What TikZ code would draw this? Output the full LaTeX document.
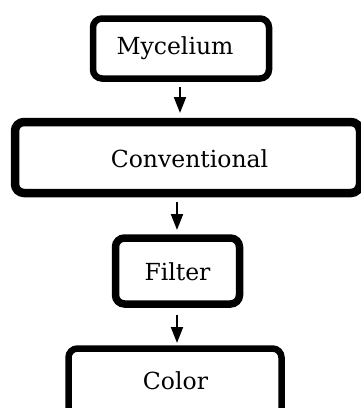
\documentclass[tikz,border=0pt]{standalone}
\usepackage{fontspec}
\setmainfont{DejaVu Serif}
\usetikzlibrary{arrows.meta}
\begin{document}
\begin{tikzpicture}[x=1pt,y=-1pt,
  box/.style={draw=black,rounded corners=9pt,fill=white},
  lbl/.style={font=\fontsize{23.5}{28}\selectfont,inner sep=0pt},
  conn/.style={line width=2pt,-{Triangle[length=16pt,width=12pt]}}]
\useasboundingbox (0,0) rectangle (361,408);
\clip (0,0) rectangle (361,408);
% boxes
\draw[box,line width=6.5pt] (93,18.5) rectangle (269,78.5);
\node[lbl] (myc) at (175,48) {Mycelium};
\draw[box,line width=8.5pt] (15,122) rectangle (360,193);
\node[lbl] (conv) at (189.5,159) {Conventional};
\draw[box,line width=7.5pt] (115.5,238) rectangle (239.5,304);
\node[lbl] (fil) at (177.5,272) {Filter};
\draw[box,line width=6.5pt] (68.5,348.5) rectangle (281.5,430);
\node[lbl] (col) at (175.5,381) {Color};
% connector anchors
\coordinate (a1s) at (180,87);
\coordinate (a1e) at (180,113);
\coordinate (a2s) at (177,202);
\coordinate (a2e) at (177,230);
\coordinate (a3s) at (177,315);
\coordinate (a3e) at (177,343);
\draw[conn] (a1s) -- (a1e);
\draw[conn] (a2s) -- (a2e);
\draw[conn] (a3s) -- (a3e);
\end{tikzpicture}
\end{document}
